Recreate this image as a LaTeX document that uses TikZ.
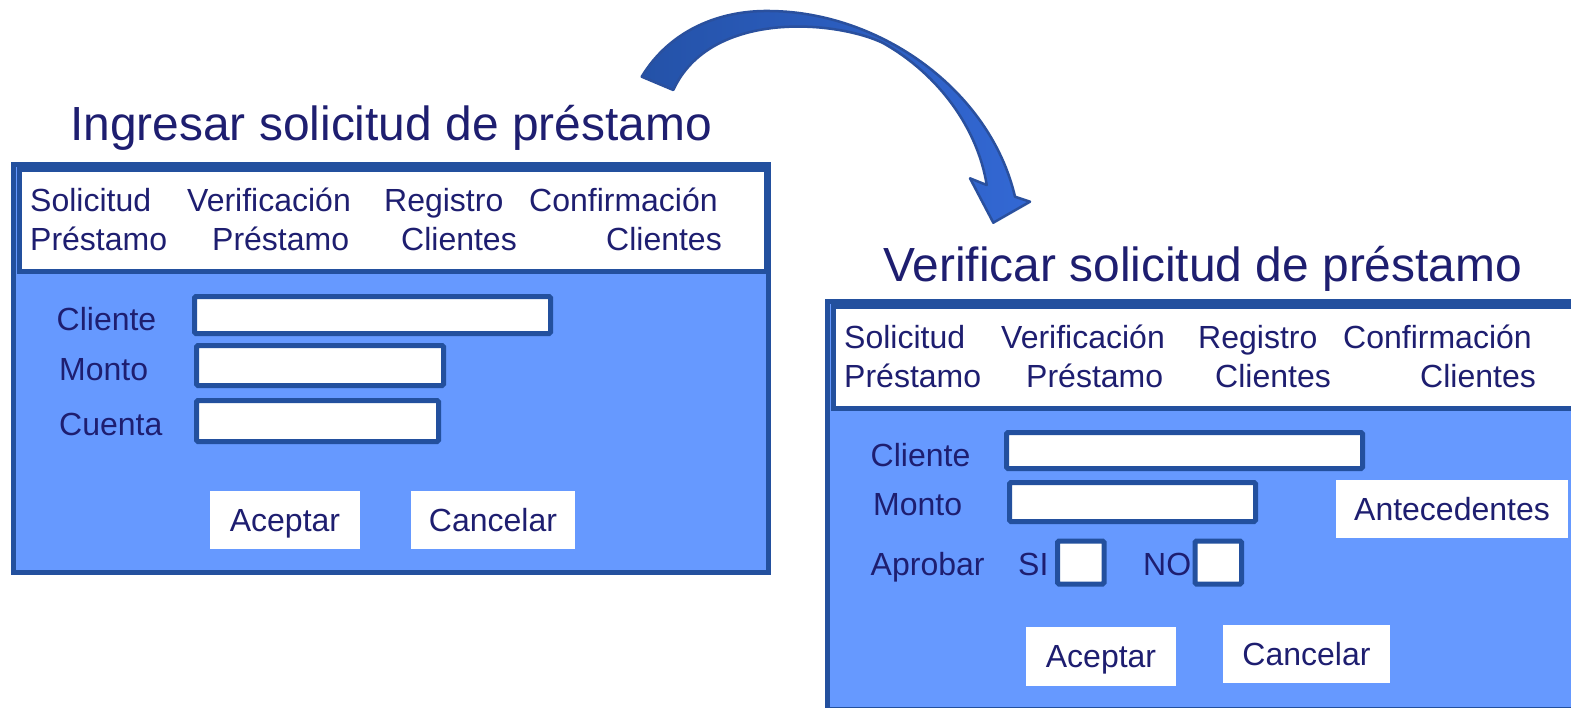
\documentclass[tikz,border=0pt]{standalone}
\usepackage{fontspec}
\setmainfont{Liberation Sans}
\definecolor{fillc}{HTML}{6699FF}
\definecolor{bordc}{HTML}{23509E}
\definecolor{txtc}{HTML}{1E1E70}
\definecolor{arrdark}{HTML}{2452A8}
\definecolor{arrlight}{HTML}{3368D4}
\definecolor{arredge}{HTML}{2A509E}
\newcommand\bodyfont{\fontsize{32}{38}\selectfont}
\newcommand\titlefont{\fontsize{47.9}{56}\selectfont}
\begin{document}
\begin{tikzpicture}[x=1pt,y=-1pt,
 panel/.style={draw=bordc,line width=5pt,fill=fillc},
 header/.style={draw=bordc,line width=5pt,fill=white},
 field/.style={draw=bordc,line width=5pt,fill=white,rounded corners=1.5pt},
 btn/.style={fill=white,inner sep=0pt,text=txtc,font=\bodyfont,text height=22.9pt,text depth=0pt},
 lbl/.style={text=txtc,font=\bodyfont,anchor=base west,inner sep=0pt},
 ttl/.style={text=txtc,font=\titlefont,anchor=base west,inner sep=0pt},
]
\useasboundingbox (0,0) rectangle (1571,707);
\clip (0,0) rectangle (1571,707);
\fill[white] (0,0) rectangle (1571,707);

% ---------- left panel ----------
\node[ttl] (t1) at (70,140) {Ingresar solicitud de préstamo};
\draw[panel] (13.5,164.5) rectangle (768.5,572.5);
\draw[header] (19,169.5) rectangle (766,271.5);
\node[lbl] (l1a) at (30,211.7) {Solicitud};
\node[lbl] (l1b) at (30,250) {Préstamo};
\node[lbl] (l2a) at (187,211.7) {Verificación};
\node[lbl] (l2b) at (212,250) {Préstamo};
\node[lbl] (l3a) at (384,211.7) {Registro};
\node[lbl] (l3b) at (401,250) {Clientes};
\node[lbl] (l4a) at (529,211.7) {Confirmación};
\node[lbl] (l4b) at (606,250) {Clientes};

\node[lbl] (lcli) at (56.5,330) {Cliente};
\node[lbl] (lmon) at (59,380) {Monto};
\node[lbl] (lcue) at (59,435.7) {Cuenta};
\draw[field] (194.5,296.5) rectangle (550.5,333.5);
\draw[field] (196.5,345.5) rectangle (443.5,385.5);
\draw[field] (196.5,400.5) rectangle (438.5,441.5);
\node[btn,minimum width=150pt,minimum height=58pt] (lacep) at (285,520) {Aceptar};
\node[btn,minimum width=164pt,minimum height=58pt] (lcanc) at (493,520) {Cancelar};

% ---------- right panel ----------
\node[ttl] (t2) at (883,281.7) {Verificar solicitud de préstamo};
\draw[panel] (827.5,301.5) rectangle (1582.5,709.5);
\draw[header] (833,306.5) rectangle (1580,408.5);
\node[lbl] (r1a) at (844,348.7) {Solicitud};
\node[lbl] (r1b) at (844,387) {Préstamo};
\node[lbl] (r2a) at (1001,348.7) {Verificación};
\node[lbl] (r2b) at (1026,387) {Préstamo};
\node[lbl] (r3a) at (1198,348.7) {Registro};
\node[lbl] (r3b) at (1215,387) {Clientes};
\node[lbl] (r4a) at (1343,348.7) {Confirmación};
\node[lbl] (r4b) at (1420,387) {Clientes};

\node[lbl] (rcli) at (870.5,466.7) {Cliente};
\node[lbl] (rmon) at (873,515) {Monto};
\node[lbl] (rapr) at (870.5,575) {Aprobar};
\node[lbl] (rsi) at (1018,575) {SI};
\node[lbl] (rno) at (1143,575) {NO};
\draw[field] (1006.5,432.5) rectangle (1362.5,468.5);
\draw[field] (1009.5,482.5) rectangle (1255.5,521.5);
\draw[field] (1057.5,541) rectangle (1104,584);
\draw[field] (1195,541) rectangle (1241.5,584);
\node[btn,minimum width=232pt,minimum height=57.5pt] (rant) at (1452,509) {Antecedentes};
\node[btn,minimum width=150pt,minimum height=59pt] (racep) at (1101,656.5) {Aceptar};
\node[btn,minimum width=167pt,minimum height=58pt] (rcanc) at (1306.5,654) {Cancelar};

% ---------- curved arrow ----------
\path[left color=arrdark,right color=arrlight,draw=arredge,line width=2.5pt,line join=round]
 (641.7,76.7) .. controls (670,30) and (720,10) .. (770,11)
 .. controls (880,12) and (990,90) .. (1015,196.7)
 -- (1030,201.7) -- (993.3,222.7) -- (970,178.3) -- (986.7,185)
 .. controls (978,130) and (940,75) .. (883,43)
 .. controls (835,20) and (710,10) .. (673.3,90)
 -- cycle;
\end{tikzpicture}
\end{document}
